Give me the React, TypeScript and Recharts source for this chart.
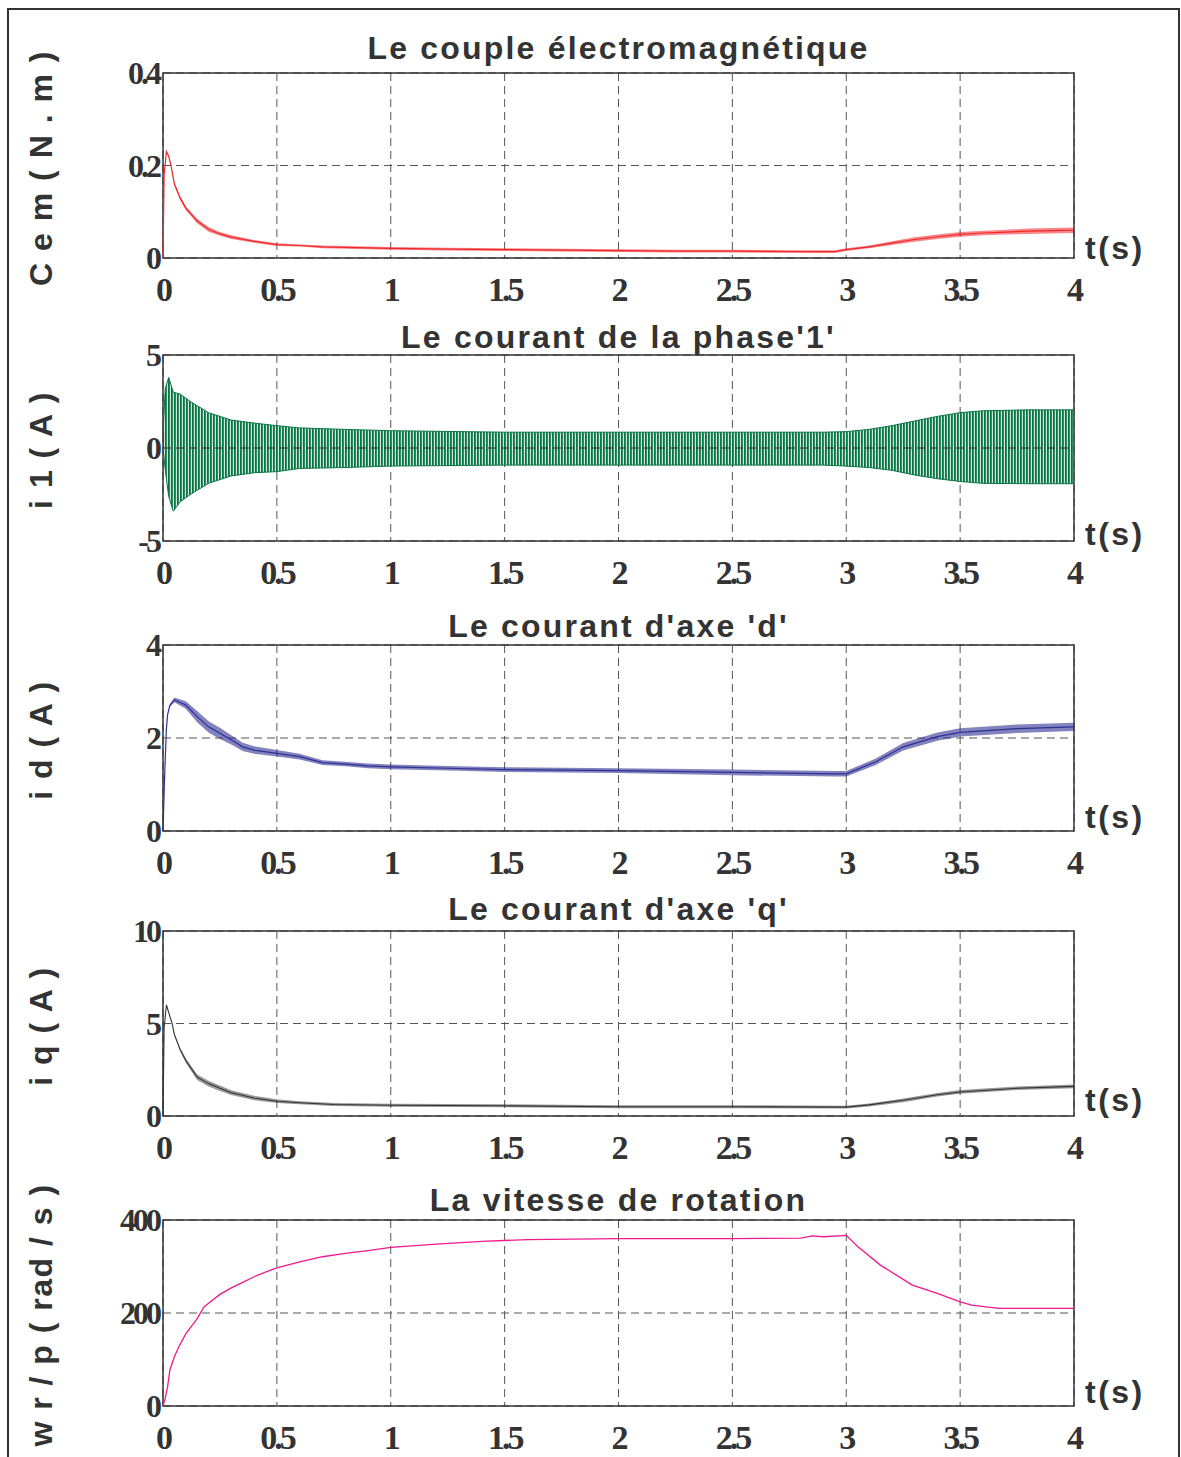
import React from "react";
import {
  ComposedChart,
  Line,
  Area,
  XAxis,
  YAxis,
  CartesianGrid,
  ReferenceArea,
  ReferenceLine,
} from "recharts";

// time axis
const timeTicks = [0, 0.5, 1, 1.5, 2, 2.5, 3, 3.5, 4];

// couple électromagnétique (N.m)
const cemT = [0, 0.005, 0.015, 0.025, 0.035, 0.05, 0.075, 0.1, 0.15, 0.2, 0.25, 0.3, 0.4, 0.5, 0.6, 0.7, 0.8, 1.0, 1.25, 1.5, 1.75, 2.0, 2.25, 2.5, 2.75, 2.95, 3.0, 3.1, 3.2, 3.3, 3.4, 3.5, 3.6, 3.7, 3.8, 3.9, 4.0];
const cemV = [0, 0.18, 0.23, 0.22, 0.2, 0.16, 0.13, 0.108, 0.08, 0.062, 0.052, 0.045, 0.036, 0.029, 0.027, 0.024, 0.023, 0.021, 0.019, 0.018, 0.017, 0.016, 0.015, 0.015, 0.014, 0.014, 0.018, 0.024, 0.032, 0.04, 0.046, 0.051, 0.054, 0.056, 0.058, 0.059, 0.06];
const cemNoise = [0, 0, 0, 0, 0, 0.003, 0.004, 0.004, 0.005, 0.005, 0.004, 0.004, 0.003, 0.003, 0.002, 0.003, 0.003, 0.003, 0.003, 0.003, 0.003, 0.003, 0.003, 0.003, 0.003, 0.003, 0.003, 0.003, 0.004, 0.005, 0.005, 0.005, 0.005, 0.005, 0.006, 0.006, 0.006];

// courant de phase 1 (A) - envelope of the oscillation
const i1T = [0, 0.01, 0.025, 0.045, 0.075, 0.12, 0.2, 0.3, 0.4, 0.5, 0.6, 0.8, 1.0, 1.5, 2.0, 2.5, 2.9, 3.0, 3.1, 3.2, 3.3, 3.4, 3.5, 3.6, 3.8, 4.0];
const i1Hi = [0.8, 3.2, 3.8, 3.0, 2.9, 2.5, 1.9, 1.5, 1.34, 1.2, 1.08, 1.0, 0.93, 0.85, 0.85, 0.85, 0.85, 0.88, 1.0, 1.2, 1.45, 1.7, 1.9, 2.0, 2.05, 2.05];
const i1Lo = [0, -1.2, -2.6, -3.4, -2.9, -2.5, -1.9, -1.5, -1.33, -1.27, -1.1, -1.05, -0.97, -0.92, -0.92, -0.92, -0.92, -0.97, -1.05, -1.2, -1.45, -1.65, -1.8, -1.9, -1.92, -1.92];

// courant d'axe d (A)
const idT = [0, 0.005, 0.01, 0.015, 0.02, 0.03, 0.05, 0.1, 0.15, 0.2, 0.25, 0.3, 0.35, 0.4, 0.5, 0.6, 0.7, 0.8, 0.9, 1.0, 1.25, 1.5, 2.0, 2.5, 2.95, 3.0, 3.13, 3.25, 3.4, 3.5, 3.75, 4.0];
const idV = [0, 0.85, 1.57, 2.2, 2.5, 2.7, 2.82, 2.71, 2.46, 2.24, 2.1, 1.96, 1.81, 1.74, 1.67, 1.6, 1.47, 1.44, 1.4, 1.38, 1.35, 1.32, 1.3, 1.26, 1.23, 1.23, 1.49, 1.81, 2.03, 2.12, 2.2, 2.24];
const idNoise = [0, 0, 0, 0, 0, 0.03, 0.05, 0.08, 0.12, 0.12, 0.12, 0.1, 0.09, 0.08, 0.07, 0.06, 0.05, 0.05, 0.05, 0.05, 0.05, 0.05, 0.05, 0.06, 0.06, 0.06, 0.07, 0.08, 0.09, 0.09, 0.09, 0.09];

// courant d'axe q (A)
const iqT = [0, 0.005, 0.015, 0.025, 0.04, 0.05, 0.075, 0.1, 0.15, 0.2, 0.25, 0.3, 0.4, 0.5, 0.6, 0.75, 1.0, 1.5, 2.0, 2.5, 3.0, 3.1, 3.25, 3.4, 3.5, 3.75, 4.0];
const iqV = [0, 4.8, 6.0, 5.6, 5.0, 4.4, 3.6, 3.0, 2.1, 1.75, 1.5, 1.26, 0.97, 0.8, 0.72, 0.62, 0.58, 0.55, 0.5, 0.5, 0.48, 0.6, 0.85, 1.15, 1.3, 1.5, 1.6];
const iqNoise = [0, 0, 0, 0, 0, 0.05, 0.1, 0.12, 0.15, 0.15, 0.15, 0.13, 0.12, 0.1, 0.08, 0.08, 0.08, 0.08, 0.08, 0.08, 0.08, 0.08, 0.1, 0.1, 0.1, 0.1, 0.1];

// vitesse de rotation (rad/s)
const wrT = [0, 0.01, 0.02, 0.03, 0.05, 0.07, 0.1, 0.15, 0.18, 0.2, 0.25, 0.3, 0.35, 0.4, 0.45, 0.5, 0.6, 0.7, 0.8, 0.9, 1.0, 1.2, 1.4, 1.6, 2.0, 2.5, 2.8, 2.85, 2.9, 3.0, 3.05, 3.15, 3.29, 3.4, 3.5, 3.55, 3.67, 4.0];
const wrV = [0, 17, 41, 77, 106, 128, 155, 188, 213, 221, 240, 254, 266, 278, 288, 297, 310, 321, 328, 334, 341, 348, 354, 358, 360, 360, 361, 366, 364, 367, 343, 303, 260, 242, 224, 217, 210, 210];

const withBand = (t: number[], v: number[], n: number[]) =>
  t.map((tt, i) => ({ t: tt, v: v[i], band: [v[i] - n[i], v[i] + n[i]] }));

const cemData = withBand(cemT, cemV, cemNoise);
const idData = withBand(idT, idV, idNoise);
const iqData = withBand(iqT, iqV, iqNoise);
const wrData = wrT.map((t, i) => ({ t, v: wrV[i] }));
const i1Data = i1T.map((t, i) => ({ t, hi: i1Hi[i], lo: i1Lo[i], band: [i1Lo[i], i1Hi[i]] }));

const PAGE_W = 1181;
const PLOT_LEFT = 163;
const PLOT_RIGHT = 1074;
const TOP_PAD = 25;
const TEXT = "#333";
const SANS = "'Liberation Sans', Arial, sans-serif";
const SERIF = "'Liberation Serif', 'Times New Roman', serif";

const XTick = (props: any) => {
  const { x, y, payload } = props;
  return (
    <text x={x} y={y + 43} textAnchor="middle" fontFamily={SERIF} fontWeight="bold" fontSize={34} letterSpacing={-3} fill={TEXT}>
      {String(payload.value)}
    </text>
  );
};

const YTick = (props: any) => {
  const { x, y, payload } = props;
  return (
    <text x={x - 4} y={y + 11} textAnchor="end" fontFamily={SERIF} fontWeight="bold" fontSize={32} letterSpacing={-3} fill={TEXT}>
      {String(payload.value)}
    </text>
  );
};

interface PanelProps {
  top: number;
  bottom: number;
  title: string;
  titleY: number;
  yLabel: string;
  tsY: number;
  domain: [number, number];
  ticks: number[];
  data: any[];
  axisH?: number;
  children: React.ReactNode;
}

const Panel = ({ top, bottom, title, titleY, yLabel, tsY, domain, ticks, data, axisH = 62, children }: PanelProps) => {
  const plotH = bottom - top;
  return (
    <>
      <div style={{ position: "absolute", left: 0, top: top - TOP_PAD }}>
        <ComposedChart
          width={PAGE_W}
          height={TOP_PAD + plotH + axisH}
          data={data}
          margin={{ top: TOP_PAD, right: PAGE_W - PLOT_RIGHT, left: 0, bottom: 0 }}
        >
          {children}
          <CartesianGrid stroke="#555" strokeDasharray="8 5" />
          <XAxis
            dataKey="t"
            type="number"
            domain={[0, 4]}
            ticks={timeTicks}
            interval={0}
            height={axisH}
            tickSize={0}
            tickMargin={0}
            axisLine={false}
            tickLine={false}
            tick={<XTick />}
          />
          <YAxis
            type="number"
            domain={domain}
            ticks={ticks}
            interval={0}
            width={PLOT_LEFT}
            tickSize={0}
            tickMargin={0}
            axisLine={false}
            tickLine={false}
            tick={<YTick />}
          />
          <ReferenceArea x1={0} x2={4} y1={domain[0]} y2={domain[1]} fill="none" stroke="#333" strokeWidth={1.5} ifOverflow="visible" />
        </ComposedChart>
      </div>
      <div
        style={{
          position: "absolute",
          left: (PLOT_LEFT + PLOT_RIGHT) / 2,
          top: titleY,
          transform: "translate(-50%, -50%)",
          whiteSpace: "nowrap",
          fontFamily: SANS,
          fontWeight: "bold",
          fontSize: 32,
          letterSpacing: 2.2,
          color: TEXT,
        }}
      >
        {title}
      </div>
      <div
        style={{
          position: "absolute",
          left: 41,
          top: (top + bottom) / 2 + 2,
          transform: "translate(-50%, -50%) rotate(-90deg)",
          whiteSpace: "nowrap",
          fontFamily: SANS,
          fontWeight: "bold",
          fontSize: 32,
          letterSpacing: 1.5,
          color: TEXT,
        }}
      >
        {yLabel}
      </div>
      <div
        style={{
          position: "absolute",
          left: 1085,
          top: tsY,
          transform: "translateY(-50%)",
          whiteSpace: "nowrap",
          fontFamily: SANS,
          fontWeight: "bold",
          fontSize: 32,
          letterSpacing: 2.5,
          color: TEXT,
        }}
      >
        t(s)
      </div>
    </>
  );
};

const App = () => {
  return (
    <div style={{ position: "absolute", left: 0, top: 0, width: PAGE_W, height: 1457, background: "#fff", overflow: "hidden" }}>
      <div
        style={{
          position: "absolute",
          left: 7,
          top: 8,
          width: 1173,
          height: 1449,
          borderTop: "2px solid #333",
          borderLeft: "2px solid #333",
          borderRight: "2px solid #333",
          boxSizing: "border-box",
        }}
      />

      <Panel top={73} bottom={258} title="Le couple électromagnétique" titleY={48} yLabel="C e m ( N . m )" tsY={248} domain={[0, 0.4]} ticks={[0, 0.2, 0.4]} data={cemData}>
        <Area dataKey="band" fill="#f0282c" fillOpacity={0.55} stroke="none" isAnimationActive={false} />
        <Line dataKey="v" stroke="#f0282c" strokeWidth={1.2} dot={false} isAnimationActive={false} />
      </Panel>

      <Panel top={355} bottom={541} title="Le courant de la phase'1'" titleY={337} yLabel="i 1 ( A )" tsY={534} domain={[-5, 5]} ticks={[-5, 0, 5]} data={i1Data}>
        <defs>
          <pattern id="i1stripes" width="3" height="10" patternUnits="userSpaceOnUse">
            <rect x="0" y="0" width="3" height="10" fill="#cfe6da" />
            <rect x="0" y="0" width="1.8" height="10" fill="#087545" />
          </pattern>
        </defs>
        <Area dataKey="band" fill="url(#i1stripes)" fillOpacity={1} stroke="none" isAnimationActive={false} />
        <Line dataKey="hi" stroke="#087545" strokeWidth={1} dot={false} isAnimationActive={false} />
        <Line dataKey="lo" stroke="#087545" strokeWidth={1} dot={false} isAnimationActive={false} />
        <ReferenceLine y={0} stroke="#333" strokeDasharray="8 5" />
      </Panel>

      <Panel top={645} bottom={831} title="Le courant d'axe 'd'" titleY={626} yLabel="i d ( A )" tsY={817} domain={[0, 4]} ticks={[0, 2, 4]} data={idData}>
        <Area dataKey="band" fill="#2e3192" fillOpacity={0.6} stroke="none" isAnimationActive={false} />
        <Line dataKey="v" stroke="#2e3192" strokeWidth={1.2} dot={false} isAnimationActive={false} />
      </Panel>

      <Panel top={931} bottom={1116} title="Le courant d'axe 'q'" titleY={909} yLabel="i q ( A )" tsY={1100} domain={[0, 10]} ticks={[0, 5, 10]} data={iqData}>
        <Area dataKey="band" fill="#333" fillOpacity={0.5} stroke="none" isAnimationActive={false} />
        <Line dataKey="v" stroke="#333" strokeWidth={1.1} dot={false} isAnimationActive={false} />
      </Panel>

      <Panel top={1220} bottom={1406} title="La vitesse de rotation" titleY={1200} yLabel="w r / p ( rad / s )" tsY={1392} domain={[0, 400]} ticks={[0, 200, 400]} data={wrData} axisH={50}>
        <Line dataKey="v" stroke="#f0198c" strokeWidth={1.3} dot={false} isAnimationActive={false} />
      </Panel>
    </div>
  );
};

export default App;
